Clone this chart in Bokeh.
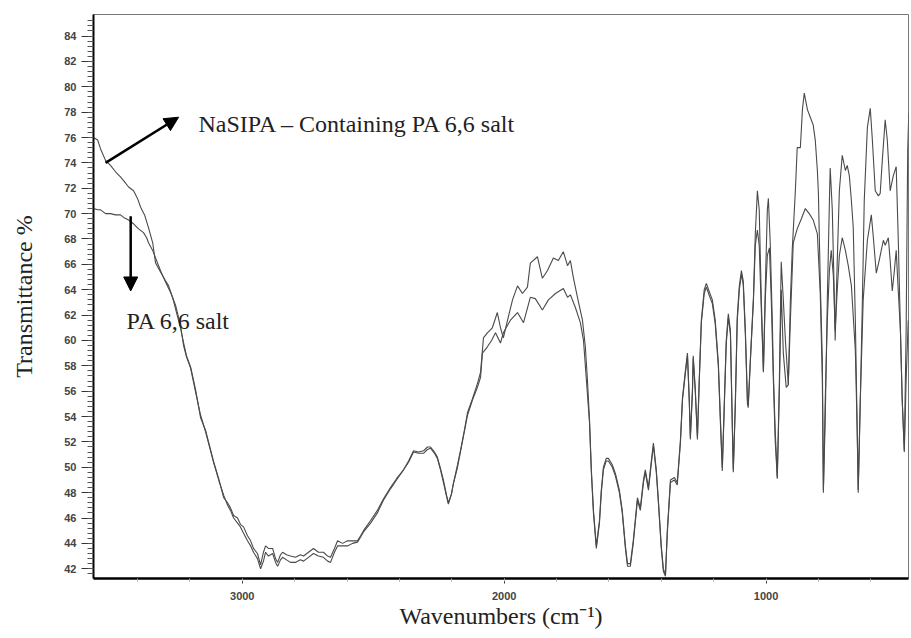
import numpy as np
from bokeh.plotting import figure
from bokeh.models import Range1d, Arrow, NormalHead, Label, FixedTicker
from bokeh.embed import file_html
from bokeh.resources import INLINE

# FTIR spectrum of NaSIPA-containing PA 6,6 salt (wavenumber cm-1, transmittance %)
nasipa_wn = [3568, 3552, 3541, 3522, 3503, 3484, 3465, 3453, 3434, 3415, 3400, 3388, 3373, 3358,
             3342, 3331, 3312, 3293, 3281, 3266, 3251, 3236, 3224, 3213, 3197, 3178, 3159, 3140,
             3125, 3110, 3090, 3071, 3056, 3045, 3033, 3018, 3007, 2995, 2980, 2968, 2957, 2942,
             2930, 2919, 2911, 2900, 2884, 2873, 2865, 2854, 2846, 2831, 2816, 2797, 2778, 2766,
             2747, 2728, 2709, 2690, 2674, 2663, 2648, 2636, 2617, 2598, 2579, 2560, 2548, 2537,
             2510, 2484, 2461, 2434, 2411, 2384, 2365, 2346, 2327, 2308, 2293, 2281, 2266, 2255,
             2243, 2232, 2220, 2213, 2201, 2194, 2178, 2167, 2152, 2140, 2121, 2102, 2090, 2079,
             2064, 2045, 2026, 2014, 2003, 1987, 1968, 1949, 1930, 1911, 1900, 1873, 1854, 1835,
             1812, 1793, 1774, 1758, 1747, 1736, 1720, 1701, 1690, 1682, 1674, 1667, 1659, 1648,
             1636, 1629, 1621, 1610, 1602, 1587, 1575, 1560, 1549, 1537, 1529, 1518, 1507, 1491,
             1480, 1468, 1461, 1449, 1438, 1430, 1419, 1411, 1400, 1392, 1384, 1377, 1365, 1350,
             1339, 1327, 1319, 1308, 1300, 1293, 1289, 1281, 1278, 1270, 1262, 1255, 1247, 1236,
             1228, 1216, 1205, 1194, 1182, 1174, 1167, 1159, 1152, 1144, 1136, 1129, 1125, 1117,
             1110, 1102, 1094, 1087, 1079, 1071, 1068, 1060, 1048, 1041, 1033, 1026, 1018, 1010,
             1003, 995, 991, 984, 976, 972, 965, 957, 949, 942, 934, 926, 915, 907, 900, 888,
             881, 869, 861, 854, 842, 831, 820, 812, 804, 800, 793, 785, 781, 774, 766, 758,
             755, 747, 739, 736, 728, 720, 709, 697, 690, 682, 674, 667, 659, 652, 648, 640,
             632, 625, 613, 602, 594, 583, 571, 564, 556, 545, 537, 526, 514, 503, 495, 487,
             480, 472, 465, 459, 455]
nasipa_t = [76.0, 75.8, 75.1, 74.2, 73.8, 73.3, 72.9, 72.6, 72.1, 71.8, 71.2, 70.5, 69.9, 68.9,
            67.7, 66.1, 65.4, 64.7, 64.3, 63.4, 62.2, 61.0, 59.8, 58.8, 57.9, 56.1, 53.9, 52.9,
            51.7, 50.5, 49.1, 47.6, 47.2, 46.8, 46.2, 46.0, 45.5, 45.3, 44.6, 44.2, 43.6, 43.2,
            42.3, 43.3, 43.8, 43.6, 43.6, 42.8, 42.5, 43.1, 43.3, 43.1, 43.0, 42.9, 43.1, 43.0,
            43.3, 43.6, 43.3, 43.3, 43.0, 42.9, 43.6, 44.2, 44.0, 44.2, 44.2, 44.2, 44.6, 45.0,
            45.8, 46.6, 47.5, 48.4, 49.1, 49.8, 50.5, 51.3, 51.2, 51.3, 51.6, 51.6, 51.2, 50.8,
            49.9, 49.0, 47.8, 47.2, 47.9, 48.7, 50.2, 51.3, 52.9, 54.3, 55.4, 56.6, 57.5, 60.2,
            60.6, 61.0, 62.2, 61.0, 60.2, 61.6, 63.2, 64.3, 63.7, 64.2, 66.1, 66.6, 64.9, 65.5,
            66.5, 66.3, 67.0, 65.9, 66.3, 65.0, 63.4, 61.6, 59.5, 56.9, 53.7, 49.8, 46.6, 43.8,
            45.8, 48.2, 50.0, 50.7, 50.7, 50.2, 49.5, 48.2, 46.6, 43.8, 42.4, 42.4, 44.2, 47.6,
            46.8, 49.0, 49.8, 48.4, 50.5, 51.9, 49.8, 47.4, 43.8, 42.0, 41.5, 45.0, 49.0, 49.2,
            48.8, 52.1, 55.5, 57.6, 59.0, 55.3, 52.4, 56.1, 58.8, 56.1, 52.4, 56.9, 61.6, 64.0,
            64.5, 63.8, 63.2, 61.6, 58.2, 53.7, 50.0, 55.3, 60.0, 62.1, 60.8, 53.7, 49.8, 55.3,
            61.8, 64.3, 65.5, 64.7, 60.8, 55.3, 54.9, 58.4, 63.4, 68.4, 71.8, 70.3, 63.2, 57.6,
            64.0, 70.3, 71.2, 67.7, 61.6, 57.4, 52.9, 49.2, 56.9, 66.2, 63.2, 60.0, 56.5, 63.2, 67.1, 71.8,
            75.2, 75.2, 78.2, 79.5, 78.2, 77.6, 77.0, 75.8, 73.4, 71.6, 64.7, 58.4, 48.2, 53.7, 63.2, 71.0,
            73.6, 70.3, 63.2, 60.0, 66.3, 71.8, 74.6, 73.4, 73.8, 73.0, 71.0, 68.9, 61.6, 53.2, 48.2, 55.3,
            63.2, 71.0, 76.8, 78.3, 75.8, 71.8, 71.4, 71.6, 74.2, 77.4, 75.8, 71.8, 73.0, 73.7, 67.9, 61.0,
            55.3, 51.3, 60.8, 75.0, 77.9]

# FTIR spectrum of plain PA 6,6 salt
salt_wn = [3568, 3552, 3541, 3522, 3503, 3484, 3465, 3453, 3434, 3415, 3396, 3377, 3365, 3358,
           3342, 3331, 3312, 3293, 3274, 3255, 3236, 3224, 3213, 3197, 3178, 3159, 3140, 3125,
           3110, 3090, 3071, 3056, 3045, 3033, 3018, 3007, 2995, 2980, 2968, 2957, 2942, 2930,
           2919, 2911, 2900, 2884, 2873, 2865, 2854, 2846, 2831, 2816, 2797, 2778, 2766, 2747,
           2728, 2709, 2690, 2674, 2663, 2648, 2636, 2617, 2598, 2579, 2560, 2548, 2537, 2510,
           2484, 2461, 2434, 2411, 2384, 2365, 2346, 2327, 2308, 2293, 2281, 2266, 2255, 2243,
           2232, 2220, 2213, 2201, 2194, 2178, 2167, 2152, 2140, 2121, 2102, 2090, 2083, 2064,
           2048, 2033, 2014, 2003, 1987, 1976, 1949, 1926, 1900, 1881, 1854, 1831, 1804, 1774,
           1758, 1747, 1728, 1709, 1697, 1686, 1674, 1667, 1659, 1648, 1636, 1629, 1621, 1610,
           1602, 1587, 1575, 1560, 1549, 1537, 1529, 1518, 1507, 1491, 1480, 1468, 1461, 1449,
           1438, 1430, 1419, 1411, 1400, 1392, 1384, 1377, 1365, 1350, 1339, 1327, 1319, 1308,
           1300, 1293, 1289, 1281, 1278, 1270, 1262, 1255, 1247, 1236, 1228, 1216, 1205, 1194,
           1182, 1174, 1167, 1159, 1152, 1144, 1136, 1129, 1125, 1117, 1110, 1102, 1094, 1087,
           1079, 1071, 1068, 1060, 1048, 1041, 1033, 1026, 1018, 1010, 1003, 995, 987, 980,
           972, 965, 957, 949, 942, 934, 923, 915, 907, 896, 881, 865, 850, 835, 820, 804,
           793, 785, 781, 774, 766, 758, 751, 743, 736, 728, 720, 709, 697, 686, 674, 659,
           652, 648, 640, 629, 613, 598, 591, 579, 568, 552, 545, 533, 526, 518, 510, 503,
           495, 487, 480, 472, 465, 457]
salt_t = [70.4, 70.3, 70.3, 70.0, 70.0, 69.9, 69.9, 69.7, 69.5, 69.2, 68.8, 68.5, 68.1, 67.7,
          67.1, 66.5, 65.5, 64.6, 63.8, 62.8, 61.2, 59.6, 58.7, 57.8, 55.9, 54.1, 52.8, 51.6,
          50.4, 49.0, 47.8, 47.0, 46.6, 46.0, 45.6, 45.3, 44.8, 44.2, 43.8, 43.3, 42.8, 42.0,
          42.6, 43.3, 43.0, 43.2, 42.5, 42.2, 42.7, 42.9, 42.7, 42.5, 42.5, 42.7, 42.6, 42.9,
          43.2, 43.0, 42.9, 42.6, 42.5, 43.3, 43.8, 43.8, 43.8, 44.0, 44.1, 44.5, 44.9, 45.6,
          46.4, 47.4, 48.3, 49.0, 49.8, 50.4, 51.2, 51.1, 51.1, 51.4, 51.5, 51.1, 50.7, 49.8,
          48.8, 47.7, 47.1, 47.9, 48.7, 50.0, 51.2, 52.8, 54.1, 55.3, 56.3, 57.1, 59.0, 59.5,
          60.0, 60.6, 59.8, 60.6, 61.2, 61.6, 62.2, 61.4, 63.4, 63.3, 62.4, 63.2, 63.7, 64.1,
          63.4, 63.6, 62.6, 61.4, 60.0, 56.9, 53.5, 49.6, 46.4, 43.6, 45.6, 48.0, 49.8, 50.5,
          50.5, 50.0, 49.3, 48.0, 46.4, 43.6, 42.2, 42.2, 44.0, 47.4, 46.6, 48.8, 49.6, 48.2,
          50.3, 51.7, 49.6, 47.2, 43.6, 41.8, 41.4, 44.8, 48.8, 49.0, 48.6, 51.9, 55.3, 57.4,
          58.8, 55.1, 52.2, 55.9, 58.6, 55.9, 52.2, 56.7, 61.4, 63.7, 64.2, 63.5, 62.9, 61.3,
          57.9, 53.4, 49.7, 55.0, 59.7, 61.8, 60.5, 53.4, 49.6, 55.0, 61.5, 64.0, 65.2, 64.4,
          60.5, 55.0, 54.7, 58.3, 63.2, 67.5, 68.7, 67.5, 62.4, 57.5, 63.2, 66.7, 67.3, 63.2,
          56.9, 52.1, 49.1, 56.1, 64.0, 59.0, 56.3, 56.5, 61.6, 67.7, 68.8, 69.6, 70.4, 70.0, 69.5, 68.4,
          63.7, 56.9, 48.0, 55.3, 61.6, 65.5, 67.1, 65.1, 60.8, 64.0, 66.7, 68.1, 67.1, 65.9, 64.3, 59.2,
          52.9, 48.0, 55.3, 63.2, 67.9, 69.9, 68.3, 65.3, 66.3, 67.9, 67.5, 68.1, 66.3, 63.9, 65.5, 67.1,
          63.9, 60.8, 55.3, 51.2, 56.9, 61.6]

x_ticks = [3000, 2000, 1000]
y_ticks = list(range(42, 86, 2))

p = figure(width=911, height=638, output_backend="svg", toolbar_location=None,
           x_range=Range1d(3568, 456), y_range=Range1d(41.23, 85.7),
           min_border_left=93, min_border_right=3, min_border_top=14, min_border_bottom=60)
p.background_fill_color = "white"
p.border_fill_color = "white"
p.outline_line_color = "#777777"
p.outline_line_width = 1
p.grid.visible = False

p.line(salt_wn, salt_t, line_color="#4a4a4a", line_width=1.1)
p.line(nasipa_wn, nasipa_t, line_color="#4a4a4a", line_width=1.1)

# axes
xa = p.xaxis[0]
xa.ticker = FixedTicker(ticks=x_ticks, minor_ticks=list(np.arange(600, 3600, 200)))
xa.axis_line_width = 2.7
xa.axis_line_color = "black"
xa.major_tick_out = 5
xa.major_tick_in = 0
xa.minor_tick_out = 3
xa.minor_tick_in = 0
xa.minor_tick_line_color = "#aaaaaa"
xa.major_label_standoff = 8
xa.axis_label = "Wavenumbers (cm\u207b\u00b9)"
xa.axis_label_standoff = 0

ya = p.yaxis[0]
ya.ticker = FixedTicker(ticks=y_ticks, minor_ticks=list(np.arange(41.6, 85.6, 0.4)))
ya.axis_line_width = 2
ya.axis_line_color = "black"
ya.major_tick_out = 12
ya.major_tick_in = 0
ya.minor_tick_out = 6
ya.minor_tick_in = 0
ya.minor_tick_line_color = "#555555"
ya.major_label_standoff = 5
ya.axis_label = "Transmittance %"
ya.axis_label_standoff = 24

for ax in (xa, ya):
    ax.major_label_text_font = "Liberation Sans"
    ax.major_label_text_font_style = "bold"
    ax.major_label_text_font_size = "11px"
    ax.major_label_text_color = "#444444"
    ax.major_tick_line_color = "#333333"
    ax.axis_label_text_font = "Liberation Serif"
    ax.axis_label_text_font_style = "normal"
    ax.axis_label_text_font_size = "24px"
    ax.axis_label_text_color = "#222222"

# annotations
p.add_layout(Arrow(end=NormalHead(size=14, fill_color="black", line_color="black"),
                   x_start=3522, y_start=74.0, x_end=3243, y_end=77.6,
                   line_width=2.5, line_color="black"))
p.add_layout(Arrow(end=NormalHead(size=14, fill_color="black", line_color="black"),
                   x_start=3426, y_start=69.8, x_end=3426, y_end=63.9,
                   line_width=2.5, line_color="black"))
p.add_layout(Label(x=3167, y=77.1, text="NaSIPA \u2013 Containing PA 6,6 salt",
                   text_font="Liberation Serif", text_font_size="24px",
                   text_color="#222222", text_baseline="alphabetic"))
p.add_layout(Label(x=3442, y=61.5, text="PA 6,6 salt",
                   text_font="Liberation Serif", text_font_size="24px",
                   text_color="#222222", text_baseline="alphabetic"))

open("out.html", "w").write(file_html(p, INLINE))
